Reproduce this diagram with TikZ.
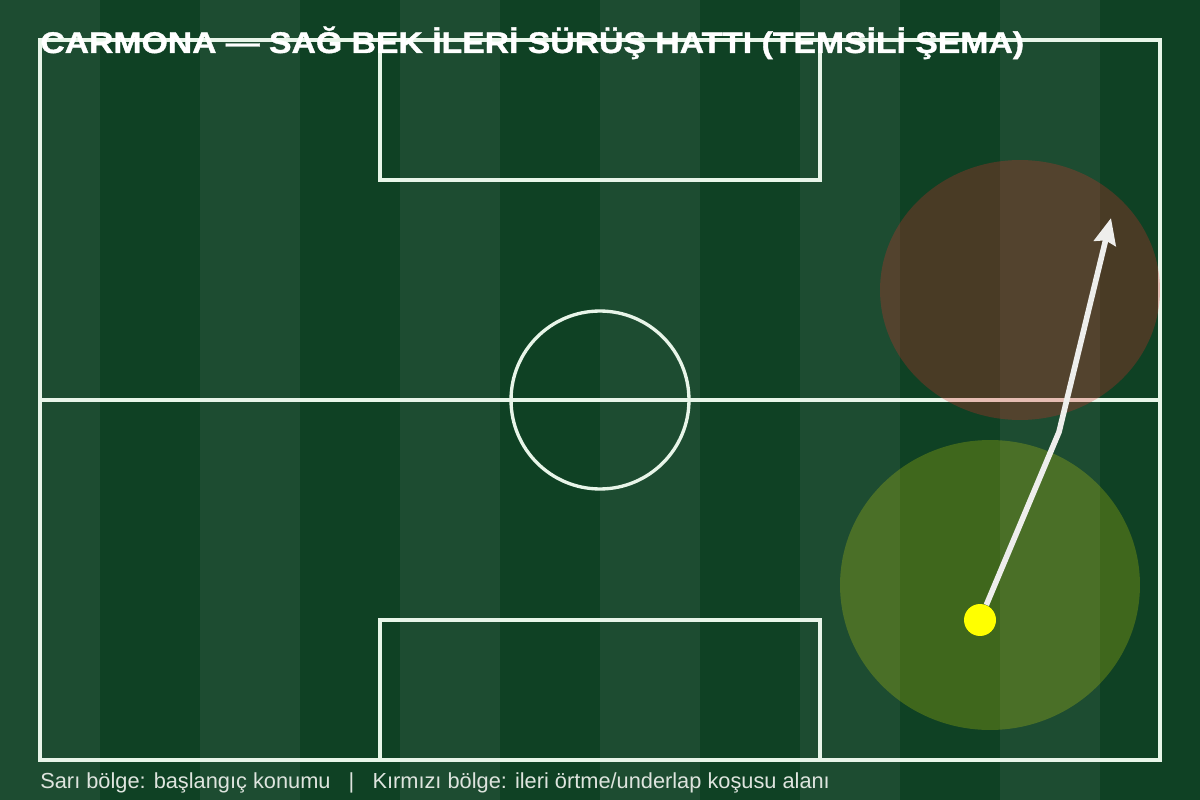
\documentclass[tikz,border=0pt]{standalone}
\usepackage{fontspec}
\setmainfont{Liberation Sans}
\newfontfamily\titlefont[FakeStretch=1.13, FakeBold=1.2]{Liberation Sans Bold}
\usepackage{xcolor}
\usetikzlibrary{arrows.meta}
\definecolor{turflight}{RGB}{29, 76, 49}
\definecolor{turfdark}{RGB}{15, 65, 36}
\definecolor{chalk}{RGB}{232, 245, 233}
\definecolor{runred}{RGB}{225, 45, 40}
\definecolor{startyellow}{RGB}{255, 255, 0}
\definecolor{runline}{RGB}{238, 238, 236}
\definecolor{notegrey}{RGB}{222, 228, 222}
\tikzset{
  chalkline/.style={draw=chalk, line width=1.9pt},
  zone/.style={fill=#1, fill opacity=0.28, draw=none},
  runpath/.style={draw=runline, line width=3.2pt, line join=round, -{Stealth[length=0.52cm, width=0.44cm, inset=0.06cm]}}
}

\begin{document}
\begin{tikzpicture}[x=0.02cm, y=-0.02cm]
\useasboundingbox (0,0) rectangle (1200,800);
% grass stripes
\foreach \i in {0,...,11} {
  \pgfmathsetmacro{\shade}{mod(\i,2)}
  \ifdim\shade pt<0.5pt
    \fill[turflight] (\i*100,0) rectangle ({(\i+1)*100},800);
  \else
    \fill[turfdark] (\i*100,0) rectangle ({(\i+1)*100},800);
  \fi
}
% pitch
\draw[chalkline] (40,40) rectangle (1160,760);
\draw[chalkline] (40,400) -- (1160,400);
\draw[chalkline] (600,400) circle[radius=1.78cm];
\draw[chalkline] (380,40) rectangle (820,180);
\draw[chalkline] (380,760) rectangle (820,620);
% zones
\fill[zone=runred] (1020,290) ellipse[x radius=2.8cm, y radius=2.6cm];
\fill[zone=startyellow, fill opacity=0.2] (990,585) ellipse[x radius=3cm, y radius=2.9cm];
% run
\node[circle, fill=startyellow, inner sep=0pt, minimum size=0.64cm] (start) at (980,620) {};
\coordinate (bend) at (1059,432);
\coordinate (target) at (1111,218);
\draw[runpath] (start) -- (bend) -- (target);
% texts
\node[anchor=base west, inner sep=0pt, text=white, font=\titlefont\fontsize{17}{20}\selectfont] (title) at (40,53) {CARMONA — SAĞ BEK İLERİ SÜRÜŞ HATTI (TEMSİLİ ŞEMA)};
\node[anchor=base west, inner sep=0pt, text=notegrey, font=\fontsize{12.4}{14}\selectfont] (legend) at (40,788) {Sarı bölge: başlangıç konumu \ \ | \ \ Kırmızı bölge: ileri örtme/underlap koşusu alanı};
\end{tikzpicture}
\end{document}
